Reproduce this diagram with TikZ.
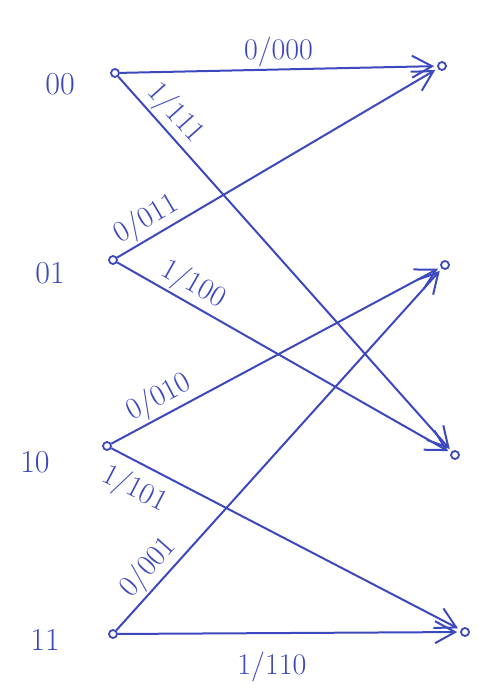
\documentclass[tikz,border=0pt]{standalone}
\usepackage{xcolor}
\usepackage{tikz}
\usetikzlibrary{arrows.meta}

\definecolor{ink}{RGB}{60,72,190}

\begin{document}
\begin{tikzpicture}[
  x=1pt,y=-1pt,
  state/.style={circle,draw=ink,line width=1.8pt,inner sep=0pt,minimum size=8pt},
  statelbl/.style={text=ink,font=\fontsize{32}{36}\selectfont},
  lbl/.style={text=ink,font=\fontsize{30}{33}\selectfont,inner sep=2pt},
  trans/.style={draw=ink,line width=2pt,-{Straight Barb[length=20pt,width=22pt,line width=2pt]},shorten >=3pt}
]
\useasboundingbox (0,0) rectangle (491,698);

% states at time k
\node[state] (a0) at (115,73) {};
\node[state] (a1) at (113,260) {};
\node[state] (a2) at (107,446) {};
\node[state] (a3) at (113,634) {};
% states at time k+1
\node[state] (b0) at (442,66) {};
\node[state] (b1) at (445,265) {};
\node[state] (b2) at (455,455) {};
\node[state] (b3) at (465,632) {};

\node[statelbl] (n0) at (60,84) {00};
\node[statelbl] (n1) at (50,273) {01};
\node[statelbl] (n2) at (35,462) {10};
\node[statelbl] (n3) at (45,640) {11};

\draw[trans] (a0) -- node[lbl,above,pos=0.5]{0/000} (b0);
\draw[trans] (a0) -- node[lbl,sloped,above,pos=0.13]{1/111} (b2);
\draw[trans] (a1) -- node[lbl,sloped,above,pos=0.12]{0/011} (b0);
\draw[trans] (a1) -- node[lbl,sloped,above,pos=0.2]{1/100} (b2);
\draw[trans] (a2) -- node[lbl,sloped,above,pos=0.17]{0/010} (b1);
\draw[trans] (a2) -- node[lbl,sloped,below=8pt,pos=0.1]{1/101} (b3);
\draw[trans] (a3) -- node[lbl,sloped,above,pos=0.14]{0/001} (b1);
\draw[trans] (a3) -- node[lbl,below=16pt,pos=0.45]{1/110} (b3);
\end{tikzpicture}
\end{document}
